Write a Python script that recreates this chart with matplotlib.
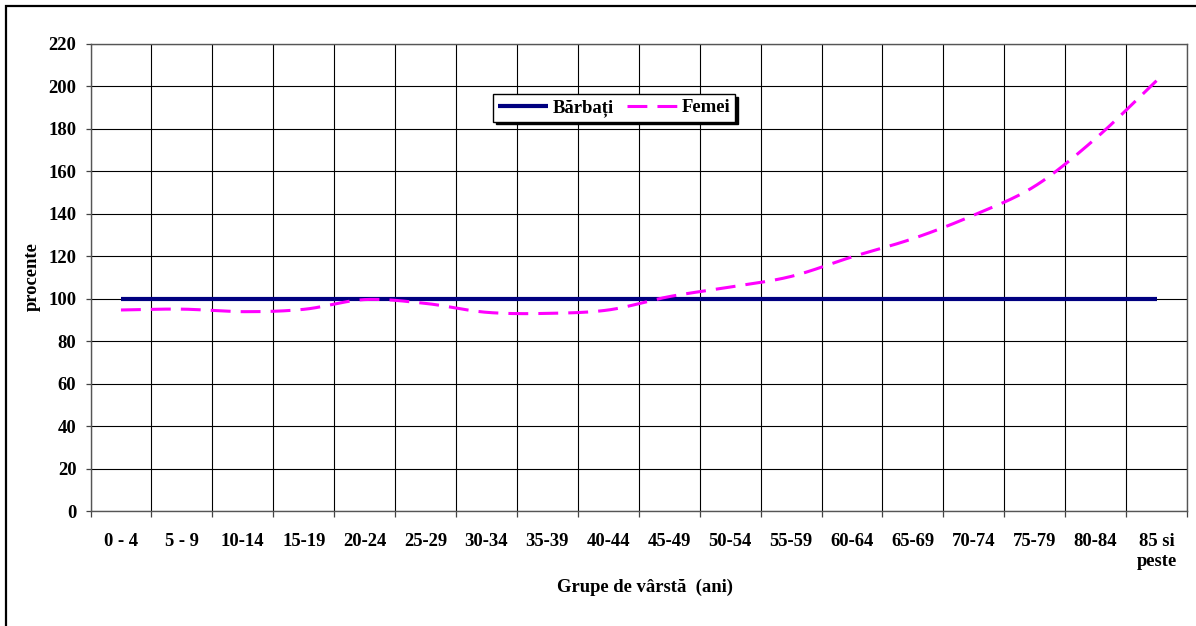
import numpy as np
import matplotlib
matplotlib.use("Agg")
import matplotlib.pyplot as plt
from matplotlib.patches import Rectangle

categories = ["0 - 4", "5 - 9", "10-14", "15-19", "20-24", "25-29", "30-34", "35-39",
              "40-44", "45-49", "50-54", "55-59", "60-64", "65-69", "70-74", "75-79",
              "80-84", "85 si\npeste"]
barbati = [100] * 18
femei = [94.7, 95.1, 93.9, 95.0, 99.6, 97.8, 93.6, 93.1, 94.7, 101.0,
         105.5, 110.5, 119.7, 128.3, 139.4, 153.0, 175.5, 202.7]
yticks = list(range(0, 221, 20))

FONT = ["Liberation Serif", "DejaVu Serif"]
plt.rcParams["font.family"] = FONT
plt.rcParams["font.weight"] = "bold"
FS = 13.4


def smooth(xs, ys, n=30):
    # Catmull-Rom style smoothing (like spreadsheet smoothed lines)
    xs = np.asarray(xs, float); ys = np.asarray(ys, float)
    px = np.concatenate([[2 * xs[0] - xs[1]], xs, [2 * xs[-1] - xs[-2]]])
    py = np.concatenate([[2 * ys[0] - ys[1]], ys, [2 * ys[-1] - ys[-2]]])
    outx, outy = [], []
    t = np.linspace(0, 1, n, endpoint=False)
    for i in range(1, len(px) - 2):
        p0, p1, p2, p3 = py[i - 1], py[i], py[i + 1], py[i + 2]
        x0, x1, x2, x3 = px[i - 1], px[i], px[i + 1], px[i + 2]
        for arr, q0, q1, q2, q3 in ((outx, x0, x1, x2, x3), (outy, p0, p1, p2, p3)):
            b1 = q1 + (q2 - q0) / 6
            b2 = q2 - (q3 - q1) / 6
            arr.extend((1 - t) ** 3 * q1 + 3 * (1 - t) ** 2 * t * b1 + 3 * (1 - t) * t ** 2 * b2 + t ** 3 * q2)
    outx.append(xs[-1]); outy.append(ys[-1])
    return np.array(outx), np.array(outy)


W, H = 1196, 626
fig = plt.figure(figsize=(W / 100, H / 100), dpi=100)
ax = fig.add_axes([90.5 / W, 1 - 511 / H, (1187 - 90.5) / W, (511 - 44) / H])

x = np.arange(len(categories))
ax.plot(x, barbati, color="#000080", lw=3.0, solid_capstyle="butt", label="Bărbați", zorder=3)
sx, sy = smooth(x, femei)
lf, = ax.plot(sx, sy, color="#FF00FF", lw=2.2, label="Femei", zorder=4)
lf.set_dashes((6.5, 3.3))

ax.set_xlim(-0.5, len(categories) - 0.5)
ax.set_ylim(0, 220)
ax.set_yticks(yticks)
ax.set_yticklabels([str(v) for v in yticks], fontsize=FS, fontweight="bold")
ax.set_xticks(x)
ax.set_xticklabels(categories, fontsize=FS, fontweight="bold", linespacing=1.25)
ax.set_xticks(np.arange(-0.5, len(categories), 1.0), minor=True)
ax.tick_params(axis="x", which="major", length=0, pad=16)
ax.tick_params(axis="x", which="minor", length=4.3, width=0.9, color="#444444")
ax.tick_params(axis="y", which="major", length=3.6, width=0.9, color="#444444", pad=6.5)

ax.grid(True, axis="y", which="major", color="black", lw=0.8)
ax.grid(True, axis="x", which="minor", color="black", lw=0.8)
for s in ax.spines.values():
    s.set_color("#555555")
    s.set_linewidth(1.0)

fig.text(32 / W, 1 - 277 / H, "procente", rotation=90, ha="center", va="center",
         fontsize=FS, fontweight="bold")
fig.text(645 / W, 1 - 587 / H, "Grupe de vârstă  (ani)", ha="center", va="center",
         fontsize=FS, fontweight="bold")

leg = ax.legend(loc="center", bbox_to_anchor=((614 - 90.5) / 1096.5, (511 - 108) / 467),
                ncol=2, frameon=True, fancybox=False, edgecolor="black",
                handlelength=2.7, handletextpad=0.25, columnspacing=0.7,
                borderpad=0.25, prop={"family": FONT, "weight": "bold", "size": FS},
                shadow={"facecolor": "black", "edgecolor": "black", "alpha": 1})
leg.get_frame().set_linewidth(1.0)
leg.get_frame().set_alpha(1)

fig.patches.append(Rectangle((6 / W, -0.1), 1.2, 1 - 6 / H + 0.1, transform=fig.transFigure,
                             fill=False, edgecolor="black", lw=1.6))

fig.savefig("out.png", dpi=100)
